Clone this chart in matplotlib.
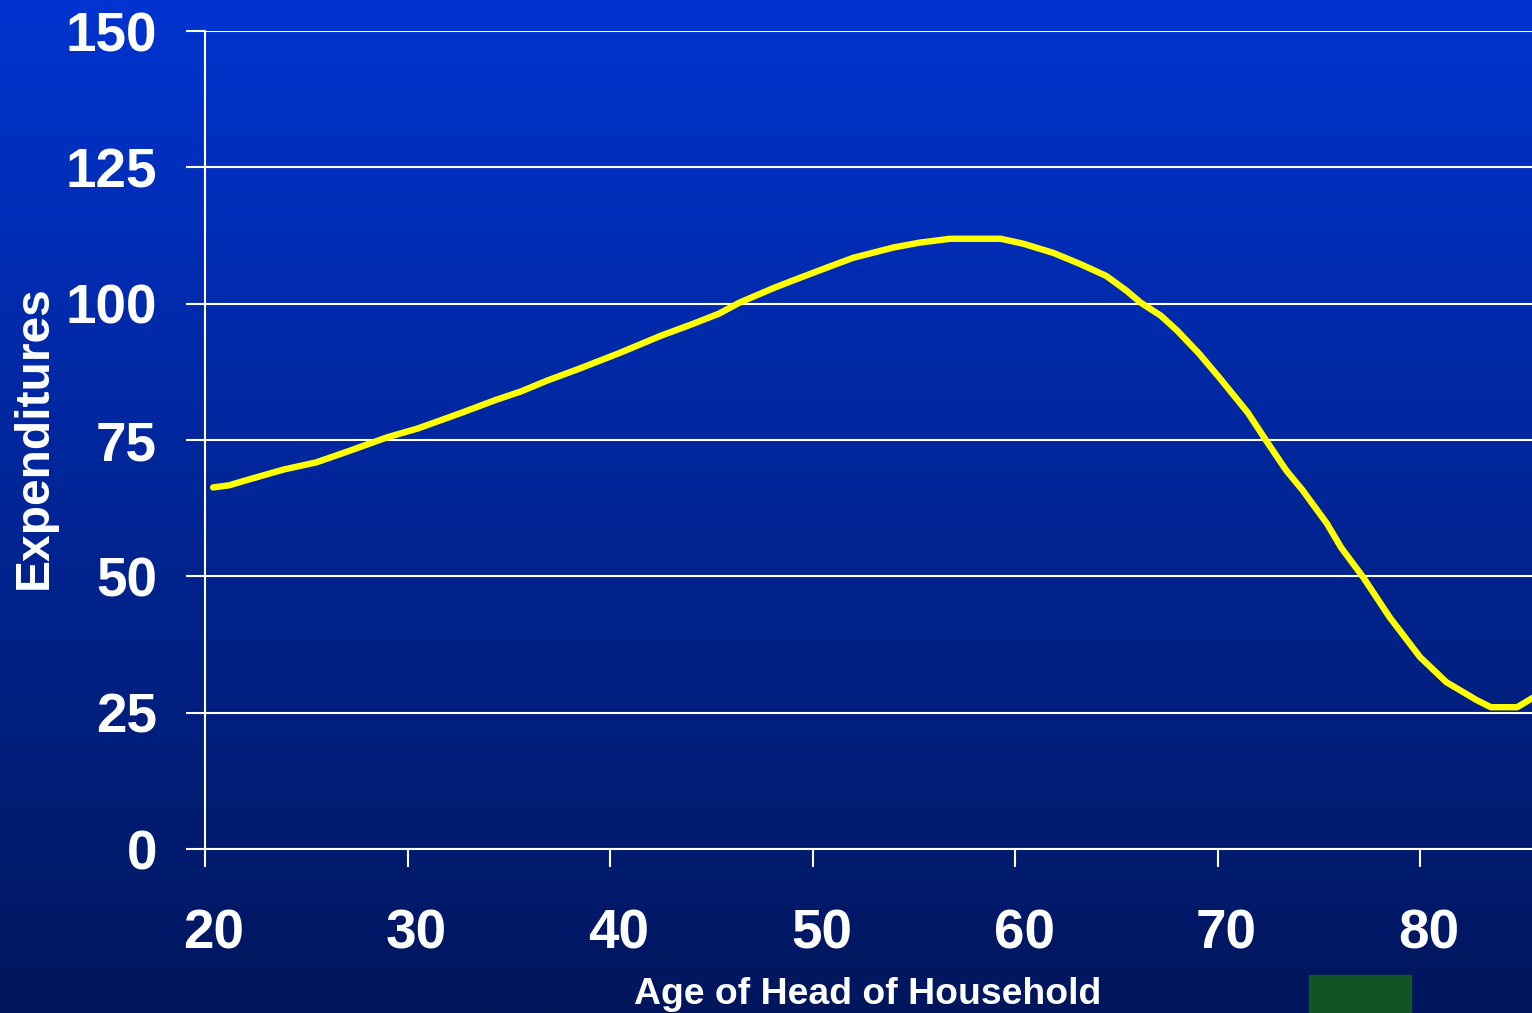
import numpy as np
import matplotlib
matplotlib.use("Agg")
import matplotlib.pyplot as plt
from matplotlib.patches import Rectangle
from matplotlib.transforms import ScaledTranslation

# Expenditure profile by age of head of household
ages = [20.4, 21.2, 22.2, 23.9, 25.5, 27.2, 29.0, 30.5, 32.6, 34.4, 35.6, 36.9,
        38.5, 40.5, 42.5, 44.1, 45.4, 46.4, 48.1, 49.0, 50.7, 52.0, 54.0, 55.3,
        56.8, 59.3, 60.4, 61.9, 63.2, 64.5, 65.5, 66.2, 67.2, 68.0, 69.1, 70.1,
        71.5, 72.4, 73.4, 74.2, 75.4, 76.1, 77.2, 78.5, 80.0, 81.3, 82.8, 83.5,
        84.8, 85.6]
spending = [66.3, 66.7, 67.8, 69.6, 70.9, 73.1, 75.5, 77.1, 79.9, 82.4, 83.9, 85.9,
            88.1, 91.0, 94.1, 96.3, 98.2, 100.2, 102.9, 104.2, 106.6, 108.4, 110.3, 111.2,
            111.9, 111.9, 111.0, 109.3, 107.3, 105.1, 102.4, 100.2, 97.8, 95.1, 90.8, 86.4,
            80.0, 74.9, 69.4, 65.8, 59.7, 55.3, 49.8, 42.5, 35.2, 30.6, 27.3, 26.0,
            26.0, 27.8]

x_ticks = [20, 30, 40, 50, 60, 70, 80]
y_ticks = [0, 25, 50, 75, 100, 125, 150]

W, H, DPI = 1532, 1013, 100
fig = plt.figure(figsize=(W / DPI, H / DPI), dpi=DPI)

# vertical blue gradient behind everything
bg = fig.add_axes([0, 0, 1, 1], zorder=-10)
top = np.array([0, 52, 208]) / 255.0
bot = np.array([0, 22, 92]) / 255.0
t = np.linspace(0, 1, 512)[:, None]
grad = (top[None, :] * (1 - t) + bot[None, :] * t)[:, None, :]
bg.imshow(grad, aspect="auto", extent=[0, 1, 0, 1], origin="upper")
bg.set_axis_off()
bg.add_patch(Rectangle((1309 / W, 0), 102 / W, 38 / H, color="#115526",
                       transform=bg.transAxes, zorder=5))

ax = fig.add_axes([205 / W, 1 - 849 / H, 1 - 205 / W, (849 - 31) / H])
ax.set_facecolor("none")
ax.plot(ages, spending, color="#FFFF00", lw=4.6, solid_joinstyle="round",
        solid_capstyle="round", zorder=3, clip_on=True)

ax.set_xlim(20, 20 + (1532 - 205) / 20.25)
ax.set_ylim(0, 150)
ax.set_xticks(x_ticks)
ax.set_yticks(y_ticks)

font = dict(family="Liberation Sans", weight="bold", color="white")
ax.set_xticklabels([str(v) for v in x_ticks], fontsize=39.5, **font)
ax.set_yticklabels([str(v) for v in y_ticks], fontsize=39.5, **font)

ax.yaxis.grid(True, color="white", lw=1.5)
ax.set_axisbelow(True)
for s in ["top", "right"]:
    ax.spines[s].set_visible(False)
for s in ["left", "bottom"]:
    ax.spines[s].set_color("white")
    ax.spines[s].set_linewidth(1.5)

ax.tick_params(axis="y", direction="out", length=13.5, width=1.5, color="white", pad=21)
ax.tick_params(axis="x", direction="out", length=13, width=1.5, color="white", pad=30)

shift = ScaledTranslation(9 / DPI, 0, fig.dpi_scale_trans)
for lab in ax.get_xticklabels():
    lab.set_transform(lab.get_transform() + shift)

fig.text(34 / W, 1 - 437 / H, "Expenditures", rotation=90, ha="center", va="center",
         fontsize=34.5, **font)
fig.text(868 / W, 1 - 1004 / H, "Age of Head of Household", ha="center", va="baseline",
         fontsize=26.9, **font)

fig.savefig("out.png", dpi=DPI)
